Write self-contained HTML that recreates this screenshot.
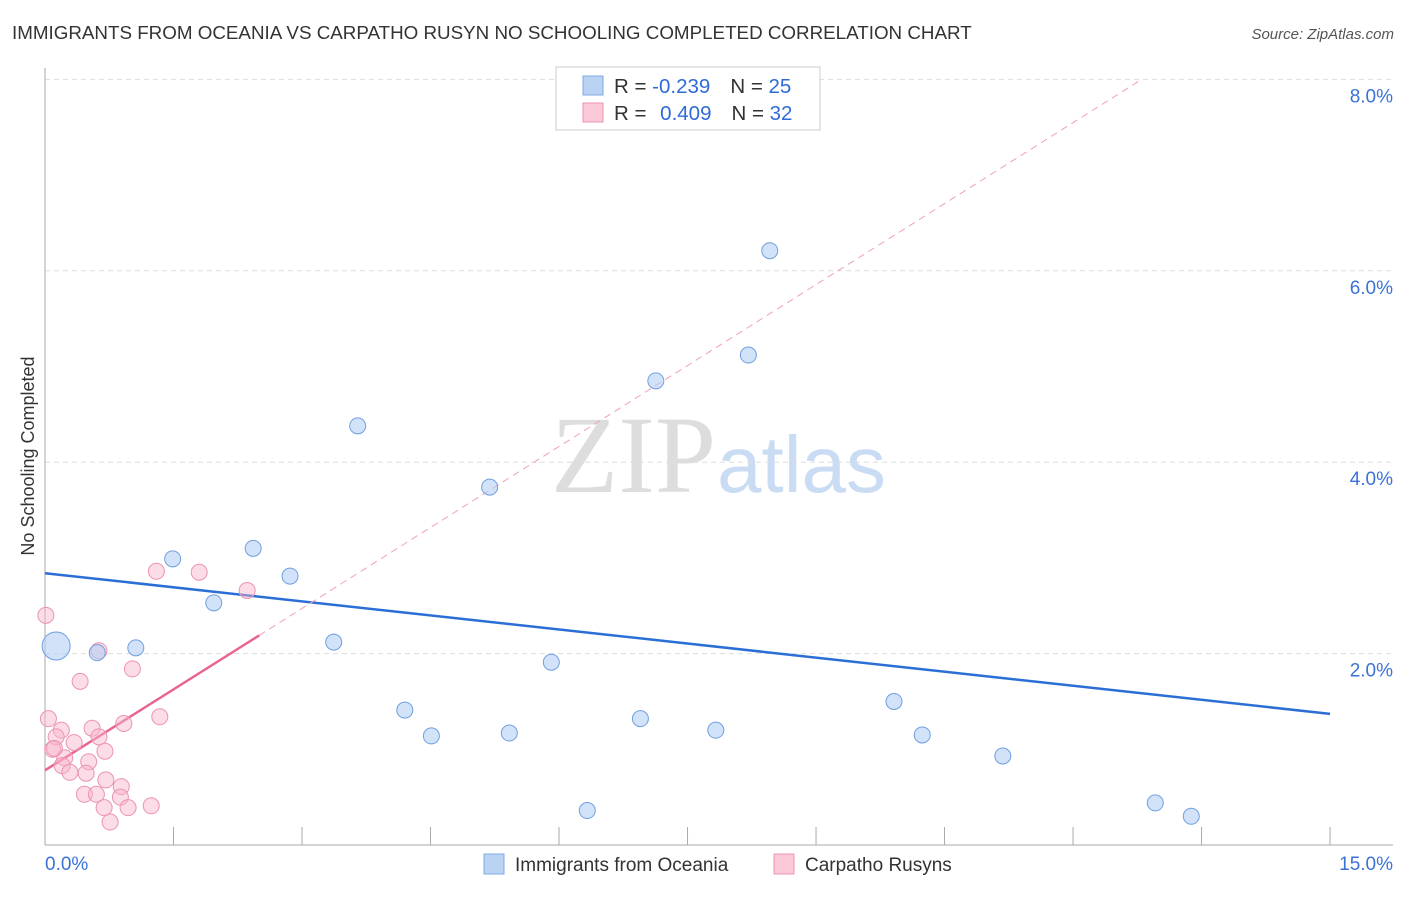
<!DOCTYPE html>
<html><head><meta charset="utf-8"><style>
body{margin:0;background:#fff;font-family:"Liberation Sans",sans-serif}
</style></head><body>
<svg width="1406" height="892" xmlns="http://www.w3.org/2000/svg" font-family="Liberation Sans, sans-serif">
<text x="12" y="39" font-size="18.8" fill="#333">IMMIGRANTS FROM OCEANIA VS CARPATHO RUSYN NO SCHOOLING COMPLETED CORRELATION CHART</text>
<text x="1394" y="39" font-size="15" fill="#555" font-style="italic" text-anchor="end">Source: ZipAtlas.com</text>
<text x="716" y="492" font-size="110" fill="#ddd" font-family="Liberation Serif, serif" text-anchor="end">ZIP</text>
<text x="717" y="492" font-size="80" fill="#c9dcf3">atlas</text>
<g id="grid"></g>
<g id="axes"></g>
<text transform="translate(34,456) rotate(-90)" font-size="18" fill="#333" text-anchor="middle">No Schooling Completed</text>
<g id="lines"></g>
<g id="points"></g>
<g>
<rect x="556" y="67" width="264" height="63" fill="#fff" stroke="#ccc"/>
<rect x="583" y="76" width="20" height="19" fill="#bad3f5" stroke="#7fa8e0"/>
<rect x="583" y="103" width="20" height="19" fill="#fbc9d8" stroke="#ef93b0"/>
<text x="614" y="93" font-size="20.5" fill="#333">R = <tspan fill="#2f6bd8">-0.239</tspan><tspan dx="20">N = </tspan><tspan fill="#2f6bd8">25</tspan></text>
<text x="614" y="120" font-size="20.5" fill="#333">R = <tspan dx="8" fill="#2f6bd8">0.409</tspan><tspan dx="20">N = </tspan><tspan fill="#2f6bd8">32</tspan></text>
</g>
<g>
<rect x="484" y="854" width="20" height="20" fill="#bad3f5" stroke="#7fa8e0"/>
<text x="515" y="871" font-size="19" fill="#333">Immigrants from Oceania</text>
<rect x="774" y="854" width="20" height="20" fill="#fbc9d8" stroke="#ef93b0"/>
<text x="805" y="871" font-size="19" fill="#333">Carpatho Rusyns</text>
</g>
</svg>
<script>
const yTicks=[2,4,6,8];
const yTickLabels=["2.0%","4.0%","6.0%","8.0%"];
const xTickLabels=["0.0%","15.0%"];
const oceaniaX=[0.13,0.61,1.06,1.49,1.97,2.43,2.86,3.37,3.65,4.20,4.51,5.19,5.42,5.91,6.33,6.95,7.13,7.83,8.21,8.46,9.91,10.24,11.18,12.96,13.38];
const oceaniaY=[2.08,2.01,2.06,2.99,2.53,3.10,2.81,2.12,4.38,1.41,1.14,3.74,1.17,1.91,0.36,1.32,4.85,1.20,5.12,6.21,1.50,1.15,0.93,0.44,0.30];
const rusynX=[0.01,1.30,1.80,2.36,0.63,1.02,0.41,0.04,1.34,0.19,0.55,0.92,0.13,0.63,0.09,0.34,0.70,0.23,0.51,0.20,0.29,0.48,0.71,0.46,0.60,0.89,0.88,0.69,0.97,1.24,0.76,0.11];
const rusynY=[2.40,2.86,2.85,2.66,2.03,1.84,1.71,1.32,1.34,1.20,1.22,1.27,1.13,1.13,1.00,1.07,0.98,0.91,0.87,0.83,0.76,0.75,0.68,0.53,0.53,0.61,0.50,0.39,0.39,0.41,0.24,1.01];
const oceaniaTrend=[2.84,1.37];
const rusynTrend=[0.78,0.564];
const NS="http://www.w3.org/2000/svg";
const X=v=>45+v*85.67, Y=v=>845-v*95.7;
function mk(t,a,p){const e=document.createElementNS(NS,t);for(const k in a)e.setAttribute(k,a[k]);p.appendChild(e);return e;}
const grid=document.getElementById('grid'),axes=document.getElementById('axes'),lines=document.getElementById('lines'),pts=document.getElementById('points');
yTicks.forEach((t,i)=>{
 const g=mk('line',{x1:45,x2:1393,y1:Y(t),y2:Y(t),stroke:'#ddd','stroke-dasharray':'5,4'},grid);
 
 
 const tx=mk('text',{x:1393,y:Y(t)+23,'font-size':19,fill:'#3a72d8','text-anchor':'end'},axes);
 tx.textContent=yTickLabels[i];
 
 
});
mk('line',{x1:45,x2:45,y1:68,y2:845,stroke:'#aaa'},axes);
mk('line',{x1:45,x2:1393,y1:845,y2:845,stroke:'#aaa'},axes);
for(let i=1;i<=10;i++){const t=mk('line',{x1:X(i*1.5),x2:X(i*1.5),y1:827,y2:845,stroke:'#aaa'},axes);
 
 }
[[0,'start',45],[15,'end',1393]].forEach((d,i)=>{const t=mk('text',{x:d[2],y:870,'font-size':19,fill:'#3a72d8','text-anchor':d[1]},axes);t.textContent=xTickLabels[i];
 
 });
const bl=mk('line',{x1:X(0),y1:Y(oceaniaTrend[0]),x2:X(15),y2:Y(oceaniaTrend[1]),stroke:'#2b6fd6','stroke-width':2.5},lines);


const xEnd=(8-rusynTrend[0])/rusynTrend[1];
const pd=mk('line',{x1:X(2.5),y1:Y(rusynTrend[0]+2.5*rusynTrend[1]),x2:X(xEnd),y2:Y(8),stroke:'#f0a0b8','stroke-width':1,'stroke-dasharray':'7,5'},lines);


const ps=mk('line',{x1:X(0),y1:Y(rusynTrend[0]),x2:X(2.5),y2:Y(rusynTrend[0]+2.5*rusynTrend[1]),stroke:'#e8648e','stroke-width':2.5},lines);


rusynX.forEach((x,i)=>{const c=mk('circle',{cx:X(x),cy:Y(rusynY[i]),r:8,fill:'rgba(248,180,202,0.45)',stroke:'#ec93b0','stroke-width':1},pts);
 
 });
oceaniaX.forEach((x,i)=>{const c=mk('circle',{cx:X(x),cy:Y(oceaniaY[i]),r:i==0?14:8,fill:'rgba(180,207,243,0.6)',stroke:'#6f9fe0','stroke-width':1},pts);
 
 });
</script>
</body></html>
